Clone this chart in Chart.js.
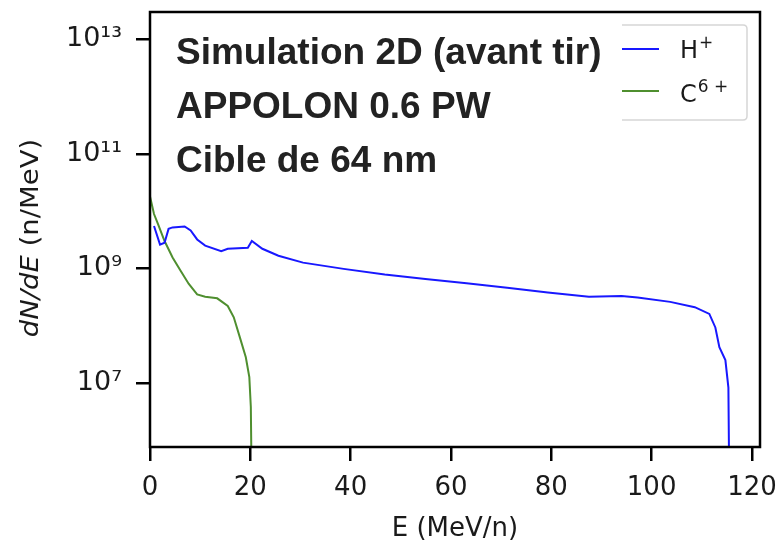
<!DOCTYPE html>
<html>
<head>
<meta charset="utf-8">
<script src="https://cdn.jsdelivr.net/npm/chart.js@4.4.1/dist/chart.umd.min.js"></script>
<style>
  html, body { margin: 0; padding: 0; background: #fff; }
  #wrap { width: 780px; height: 545px; }
</style>
</head>
<body>
<div id="wrap"><canvas id="spectrum"></canvas></div>
<script>
// proton spectrum
const energyH = [0.8, 2.0, 2.9, 3.7, 4.5, 6.9, 8.1, 9.4, 11.0, 14.2, 15.5, 19.5, 20.3, 22.4, 25.6, 30.5, 38.6, 46.8, 54.9, 63.1, 71.2, 79.3, 87.5, 94.0, 97.2, 103.7, 108.6, 111.5, 112.7, 113.5, 114.7, 115.3, 115.5]
const countsH = [5.5e9, 2.6e9, 2.8e9, 4.9e9, 5.2e9, 5.4e9, 4.6e9, 3.2e9, 2.5e9, 2.0e9, 2.2e9, 2.3e9, 3.0e9, 2.2e9, 1.66e9, 1.26e9, 9.8e8, 7.8e8, 6.5e8, 5.5e8, 4.6e8, 3.8e8, 3.2e8, 3.3e8, 3.1e8, 2.6e8, 2.1e8, 1.6e8, 9.3e7, 4.2e7, 2.5e7, 8.3e6, 1e5]

// carbon C6+ spectrum
const energyC = [0.0, 0.8, 1.6, 2.9, 4.5, 6.1, 7.7, 9.4, 11.0, 13.4, 15.5, 16.7, 17.9, 19.1, 19.8, 20.1, 20.3]
const countsC = [1.8e10, 8.9e9, 5.9e9, 3.0e9, 1.55e9, 9.1e8, 5.4e8, 3.5e8, 3.2e8, 3.0e8, 2.2e8, 1.4e8, 6.3e7, 2.8e7, 1.26e7, 3.8e6, 1e5]

const seriesNames = ['H', 'C']
const seriesCharges = ['+', '6 +']
const xTicks = [0, 20, 40, 60, 80, 100, 120]
const yTicks = [1e7, 1e9, 1e11, 1e13]
const annotationLines = ['Simulation 2D (avant tir)', 'APPOLON 0.6 PW', 'Cible de 64 nm']

const BLUE = '#1818ff'
const GREEN = '#4f8f2f'
const FONT = "'DejaVu Sans', sans-serif"

const sup = { '0': '\u2070', '1': '\u00B9', '2': '\u00B2', '3': '\u00B3', '4': '\u2074', '5': '\u2075', '6': '\u2076', '7': '\u2077', '8': '\u2078', '9': '\u2079' }
function powLabel(v) {
  const e = Math.round(Math.log10(v))
  return '10' + String(e).split('').map((c) => sup[c]).join('')
}

const toPoints = (xs, ys) => xs.map((x, i) => ({ x, y: ys[i] }))

// frame, annotation text, legend and y title
const decorations = {
  id: 'decorations',
  afterDraw(chart) {
    const { ctx, chartArea } = chart
    const { left, right, top, bottom } = chartArea
    ctx.save()

    // legend box (left side hidden under the text)
    ctx.strokeStyle = '#d6d6d6'
    ctx.lineWidth = 1.5
    ctx.fillStyle = 'rgba(255,255,255,0.85)'
    const lx = 622, ly = 25, lr = 747, lb = 120, rad = 4
    ctx.fillRect(lx, ly, lr - lx, lb - ly)
    ctx.beginPath()
    ctx.moveTo(lx, ly)
    ctx.lineTo(lr - rad, ly)
    ctx.quadraticCurveTo(lr, ly, lr, ly + rad)
    ctx.lineTo(lr, lb - rad)
    ctx.quadraticCurveTo(lr, lb, lr - rad, lb)
    ctx.lineTo(lx, lb)
    ctx.stroke()

    ctx.lineWidth = 2
    ctx.strokeStyle = BLUE
    ctx.beginPath(); ctx.moveTo(622, 49); ctx.lineTo(659, 49); ctx.stroke()
    ctx.strokeStyle = GREEN
    ctx.beginPath(); ctx.moveTo(622, 91); ctx.lineTo(659, 91); ctx.stroke()
    ctx.fillStyle = '#1a1a1a'
    ctx.textBaseline = 'alphabetic'
    ctx.textAlign = 'left'
    const rows = [58, 102]
    seriesNames.forEach((n, i) => {
      ctx.font = '24px ' + FONT
      ctx.fillText(n, 680, rows[i])
      const w = ctx.measureText(n).width
      ctx.font = '17px ' + FONT
      ctx.fillText(seriesCharges[i], 681 + w, rows[i] - 10)
    })

    // annotation
    ctx.fillStyle = '#222'
    ctx.font = "bold 37px 'Liberation Sans', Arial, sans-serif"
    annotationLines.forEach((t, i) => ctx.fillText(t, 176, 64 + i * 54))

    // frame
    ctx.strokeStyle = '#000'
    ctx.lineWidth = 2.5
    ctx.strokeRect(left, top, right - left, bottom - top)

    // y title, dN/dE in italic
    ctx.translate(31, 238)
    ctx.rotate(-Math.PI / 2)
    ctx.scale(1.1, 1)
    ctx.fillStyle = '#1a1a1a'
    const italic = 'italic 25px ' + FONT
    const normal = '25px ' + FONT
    ctx.font = italic
    const w1 = ctx.measureText('dN/dE').width
    ctx.font = normal
    const w2 = ctx.measureText(' (n/MeV)').width
    const start = -(w1 + w2) / 2
    ctx.textBaseline = 'middle'
    ctx.font = italic
    ctx.fillText('dN/dE', start, 0)
    ctx.font = normal
    ctx.fillText(' (n/MeV)', start + w1, 0)
    ctx.restore()
  },
}

const ctx = document.getElementById('spectrum').getContext('2d')
new Chart(ctx, {
  type: 'line',
  data: {
    datasets: [
      {
        label: 'H+',
        data: toPoints(energyH, countsH),
        borderColor: BLUE,
        borderWidth: 2,
        pointRadius: 0,
        tension: 0,
      },
      {
        label: 'C6+',
        data: toPoints(energyC, countsC),
        borderColor: GREEN,
        borderWidth: 2,
        pointRadius: 0,
        tension: 0,
      },
    ],
  },
  options: {
    responsive: true,
    maintainAspectRatio: false,
    animation: false,
    layout: { padding: { left: 0, right: 20, top: 12, bottom: 0 } },
    plugins: {
      legend: { display: false },
      tooltip: { enabled: false },
    },
    scales: {
      x: {
        type: 'linear',
        min: 0,
        max: 121.6,
        afterBuildTicks: (scale) => {
          scale.ticks = xTicks.map((v) => ({ value: v }))
        },
        afterFit: (scale) => {
          scale.height = 98
          scale.paddingLeft = 0
          scale.paddingRight = 0
        },
        ticks: {
          color: '#1a1a1a',
          font: { family: FONT, size: 26 },
          padding: 12,
          maxRotation: 0,
          autoSkip: false,
        },
        grid: { drawOnChartArea: false, drawTicks: true, tickLength: 14, color: '#000', lineWidth: 2.5 },
        border: { display: false },
        title: {
          display: true,
          text: 'E (MeV/n)',
          color: '#1a1a1a',
          font: { family: FONT, size: 26 },
          padding: { top: 4, bottom: 0 },
        },
      },
      y: {
        type: 'logarithmic',
        min: 7.6e5,
        max: 3.0e13,
        afterBuildTicks: (scale) => {
          scale.ticks = yTicks.map((v) => ({ value: v }))
        },
        afterFit: (scale) => {
          scale.width = 150
          scale.paddingTop = 0
          scale.paddingBottom = 0
        },
        ticks: {
          color: '#1a1a1a',
          font: { family: FONT, size: 27 },
          padding: 14,
          callback: (v) => powLabel(v),
        },
        grid: { drawOnChartArea: false, drawTicks: true, tickLength: 14, color: '#000', lineWidth: 2.5 },
        border: { display: false },
      },
    },
  },
  plugins: [decorations],
})
</script>
</body>
</html>
